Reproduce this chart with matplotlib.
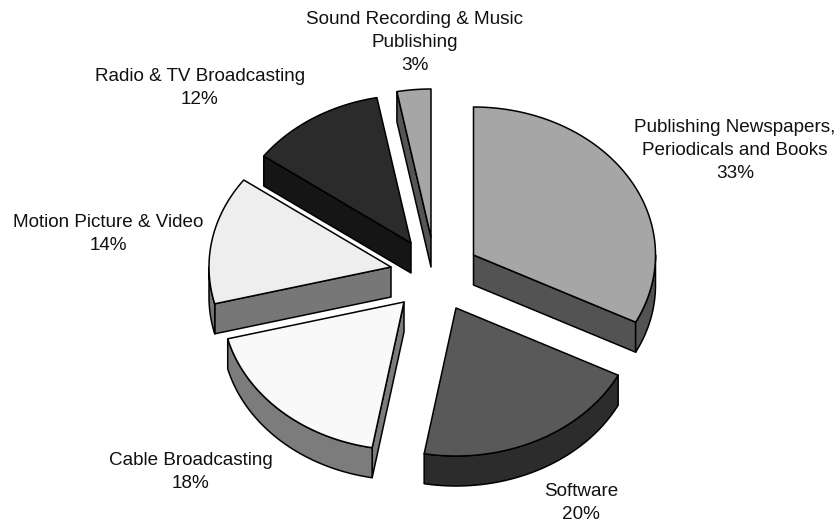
import numpy as np
import matplotlib
matplotlib.use("Agg")
import matplotlib.pyplot as plt
from matplotlib.patches import Polygon

categories = ["Publishing Newspapers,\nPeriodicals and Books", "Software", "Cable Broadcasting",
              "Motion Picture & Video", "Radio & TV Broadcasting", "Sound Recording & Music\nPublishing"]
# shares, the labels show them rounded
shares = [32.5, 20.3, 18.2, 14, 12, 3]
share_labels = ["33%", "20%", "18%", "14%", "12%", "3%"]

# look of the pie, in pixels of the 837x522 picture
apexes = [(473.5, 255), (456, 308), (404, 302), (391, 267), (411, 243), (431, 237)]
label_pos = [(735, 150.5), (581, 503), (191, 472), (108, 234), (200, 88), (415, 42.5)]
top_colors = ["#a6a6a6", "#595959", "#f9f9f9", "#eeeeee", "#2b2b2b", "#a6a6a6"]
wall_colors = ["#535353", "#2c2c2c", "#7c7c7c", "#777777", "#151515", "#555555"]
RX, RY, DEPTH = 182, 148, 30

plt.rcParams["font.family"] = ["Liberation Sans", "DejaVu Sans"]


def rim(apex, angles):
    # points on the ellipse, angles clockwise from the top
    x = apex[0] + RX * np.sin(angles)
    y = apex[1] - RY * np.cos(angles)
    return np.column_stack([x, y])


def add_face(ax, points, color):
    ax.add_patch(Polygon(points, closed=True, facecolor=color, edgecolor="black", linewidth=1.1, joinstyle="round"))


def draw_slice(ax, apex, start, end, top_color, wall_color):
    apex = np.array(apex)
    down = np.array([0, DEPTH])

    # cut faces, only when they turn towards the viewer
    if np.sin(start) < 0:
        edge = rim(apex, np.array([start]))[0]
        add_face(ax, [apex, edge, edge + down, apex + down], wall_color)
    if np.sin(end) > 0:
        edge = rim(apex, np.array([end]))[0]
        add_face(ax, [apex, edge, edge + down, apex + down], wall_color)

    # outer wall for the front half of the ellipse
    lo, hi = max(start, np.pi / 2), min(end, 3 * np.pi / 2)
    if lo < hi:
        arc = rim(apex, np.linspace(lo, hi, 80))
        add_face(ax, np.vstack([arc, (arc + down)[::-1]]), wall_color)

    arc = rim(apex, np.linspace(start, end, 120))
    add_face(ax, np.vstack([apex, arc]), top_color)


fig = plt.figure(figsize=(8.37, 5.22), dpi=100)
ax = fig.add_axes([0, 0, 1, 1])
ax.set_xlim(0, 837)
ax.set_ylim(522, 0)
ax.axis("off")

edges = np.cumsum([0] + shares) / sum(shares) * 2 * np.pi
for i in range(len(shares)):
    draw_slice(ax, apexes[i], edges[i], edges[i + 1], top_colors[i], wall_colors[i])
    label = categories[i] + "\n" + share_labels[i]
    ax.text(label_pos[i][0], label_pos[i][1], label, ha="center", va="center", fontsize=13.6, linespacing=1.45,
            color="#111111")

fig.savefig("out.png", dpi=100)
